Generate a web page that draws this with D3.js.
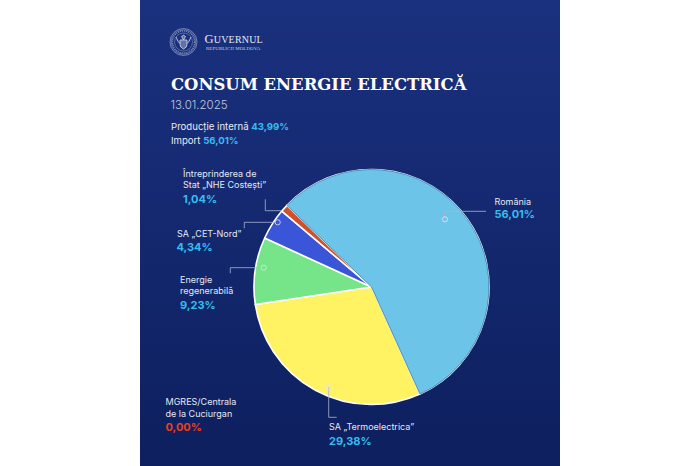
<!DOCTYPE html>
<html><head><meta charset="utf-8">
<script src="https://cdn.jsdelivr.net/npm/d3@7"></script>
<style>html,body{margin:0;padding:0;background:#fff}svg{display:block}text{font-family:Inter,sans-serif}</style>
</head><body><svg id="c" width="700" height="466"></svg>
<script>
const categories=["România","SA „Termoelectrica”","Energie regenerabilă","SA „CET-Nord”","Întreprinderea de Stat „NHE Costești”","MGRES/Centrala de la Cuciurgan"];
const values=[56.01,29.38,9.23,4.34,1.04,0.00];
const sliceColors=["#6cc5e9","#fff263","#76e488","#3b55d9","#d0502c","#e8401c"];
const labelLines=[["România"],["SA „Termoelectrica”"],["Energie","regenerabilă"],["SA „CET-Nord”"],["Întreprinderea de","Stat „NHE Costești”"],["MGRES/Centrala","de la Cuciurgan"]];
const mixLabels=["Producție internă","Import"];
const mixValues=[43.99,56.01];
const titleText="CONSUM ENERGIE ELECTRICĂ";
const dateText="13.01.2025";

// layout, separate from the data
const cx=371.5,cy=287,R=117.5,startDeg=-46;
const labelPos=[
 {x:494.5,y:[204.7],vy:218.4,line:[[486,211.3],[444.5,211.3],[444.5,219.3]],dot:[445,219.3]},
 {x:329,y:[430.3],vy:444.6,line:[[336.7,417.3],[328.7,417.3],[328.7,387.3]],dot:[328.7,387.3]},
 {x:180,y:[283,294.4],vy:309,line:[[230.3,273.3],[230.3,267.7],[261,267.7]],dot:[263.7,267.7]},
 {x:177,y:[237.3],vy:251,line:[[244.3,228.3],[244.3,222.3],[275,222.3]],dot:[277.7,222.3]},
 {x:183,y:[176.7,188.3],vy:202.8,line:[[265.3,199.3],[265.3,210.7],[282,210.7]],dot:null},
 {x:165.5,y:[405.3,416.7],vy:430.8,line:null,dot:null}
];
const fmt=v=>v.toFixed(2).replace(".",",")+"%";
const svg=d3.select("#c");
const defs=svg.append("defs");
const g=defs.append("linearGradient").attr("id","bg").attr("x1",0).attr("x2",0).attr("y1",0).attr("y2",1);
g.append("stop").attr("offset",0).attr("stop-color","#1a317f");
g.append("stop").attr("offset",1).attr("stop-color","#0d1f5e");
svg.append("rect").attr("x",140).attr("y",0).attr("width",420).attr("height",466).attr("fill","url(#bg)");

// emblem
const em=svg.append("g").attr("transform","translate(183.5,42)").attr("fill","none").attr("stroke","#cfd6ea");
em.append("circle").attr("r",13.5).attr("stroke-width",.5);
em.append("circle").attr("r",12.2).attr("stroke-width",.4);
em.append("circle").attr("r",11).attr("stroke-width",1.2).attr("stroke-dasharray","1 1").attr("opacity",.6);
em.append("circle").attr("r",9).attr("stroke-width",.35);
em.append("path").attr("d","M-3.5-2h7v4.5q0 3-3.5 4.5q-3.5-1.5-3.5-4.5zM-7.5-5q2 5.5 4 6.5M7.5-5q-2 5.5-4 6.5M-2-5.5q2-2.5 4 0l-2 3.5z").attr("stroke-width",.8).attr("fill","#cfd6ea").attr("fill-opacity",.4);

svg.append("text").attr("x",204.5).attr("y",43.4).attr("fill","#e6e9f3").style("font-family","'Liberation Serif',serif").style("font-size","12.5px").style("letter-spacing","0.2px").html('G<tspan font-size="10">UVERNUL</tspan>');
svg.append("text").attr("x",206).attr("y",49.6).attr("fill","#c9d0e4").style("font-family","'Liberation Serif',serif").style("font-size","4.9px").style("letter-spacing","0.1px").text("REPUBLICII MOLDOVA");

svg.append("text").attr("x",171).attr("y",90.3).attr("fill","#fff").style("font-family","'DejaVu Serif',serif").style("font-weight",700).style("font-size","16.45px").text(titleText);
svg.append("text").attr("x",170.5).attr("y",108.5).attr("fill","#c3cadf").style("font-size","11.5px").style("font-weight",300).text(dateText);
const ys=[130,144.4];
mixLabels.forEach((l,i)=>{
 const t=svg.append("text").attr("x",171).attr("y",ys[i]).attr("fill","#e8ebf5").style("font-size","9.6px");
 t.append("tspan").text(l+" ");
 t.append("tspan").attr("fill","#36bdf0").style("font-weight",700).text(fmt(mixValues[i]));
});

// pie
const pie=d3.pie().sort(null).value(d=>d).startAngle(startDeg*Math.PI/180).endAngle((startDeg+360)*Math.PI/180);
const arc=d3.arc().innerRadius(0).outerRadius(R);
const arcs=pie(values);
const pg=svg.append("g").attr("transform",`translate(${cx},${cy})`);
pg.selectAll("path").data(arcs.filter(d=>d.value>0)).join("path")
 .attr("d",arc).attr("fill",(d,i)=>sliceColors[i])
 .attr("stroke","#fff").attr("stroke-width",1.6).attr("stroke-linejoin","round");
// Romania drawn again on top so its edge stays dark
pg.append("path").datum(arcs[0]).attr("d",arc).attr("fill",sliceColors[0]).attr("stroke","#2c6f9c").attr("stroke-width",.7);

// leaders
const lg=d3.line();
labelPos.forEach((p,i)=>{
 if(p.line)svg.append("path").attr("d",lg(p.line)).attr("fill","none").attr("stroke","#aab4d2").attr("stroke-width",.8);
 if(p.dot)svg.append("circle").attr("cx",p.dot[0]).attr("cy",p.dot[1]).attr("r",2.6).attr("fill","none").attr("stroke","#dfe5f2").attr("stroke-width",.8);
 labelLines[i].forEach((s,j)=>svg.append("text").attr("x",p.x).attr("y",p.y[j]).attr("fill","#e3e7f2").style("font-size","9px").text(s));
 svg.append("text").attr("x",p.x-(i==3?.5:0)).attr("y",p.vy).attr("fill",i==5?"#e8401c":"#36bdf0").style("font-size","11px").style("font-weight",700).text(fmt(values[i]));
});
</script></body></html>
